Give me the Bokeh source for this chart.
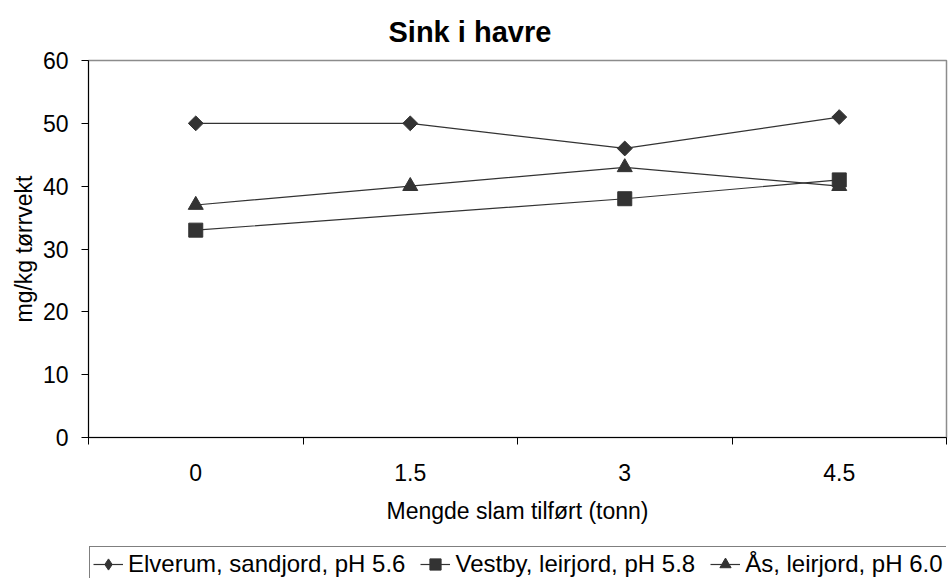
import math
from bokeh.plotting import figure
from bokeh.layouts import column
from bokeh.models import Range1d, FixedTicker, Legend, LegendItem
from bokeh.embed import file_html
from bokeh.resources import INLINE

# ---- data ----
doses = ["0", "1.5", "3", "4.5"]
elverum = [50, 50, 46, 51]
vestby = [33, None, 38, 41]
aas = [37, 40, 43, 40]
series_names = ["Elverum, sandjord, pH 5.6", "Vestby, leirjord, pH 5.8", "Ås, leirjord, pH 6.0"]
y_ticks = [0, 10, 20, 30, 40, 50, 60]

FONT = "Liberation Sans"
DARK = "#333333"
FS = "23px"

p = figure(width=951, height=540, output_backend="svg", toolbar_location=None,
           x_range=Range1d(0, len(doses)), y_range=Range1d(y_ticks[0], y_ticks[-1]),
           min_border_left=88, min_border_right=5, min_border_top=60, min_border_bottom=103,
           title="Sink i havre")

p.title.text_font = FONT
p.title.text_font_size = "29px"
p.title.text_font_style = "bold"
p.title.align = "left"
p.title.offset = 300
p.title.vertical_align = "top"
p.title.standoff = 22
p.title.text_color = "black"

p.grid.visible = False
p.outline_line_color = "#8c8c8c"
p.outline_line_width = 1.5
p.background_fill_color = "white"
p.border_fill_color = "white"

# x axis: labels at category centres, ticks at category boundaries
centers = [i + 0.5 for i in range(len(doses))]
p.xaxis.ticker = FixedTicker(ticks=centers, minor_ticks=list(range(len(doses) + 1)))
p.xaxis.major_label_overrides = {c: d for c, d in zip(centers, doses)}
p.xaxis.major_tick_out = 0
p.xaxis.major_tick_in = 0
p.xaxis.minor_tick_out = 7
p.xaxis.minor_tick_in = 0
p.xaxis.minor_tick_line_color = "black"
p.xaxis.major_label_standoff = 19
p.xaxis.axis_label = "Mengde slam tilført (tonn)"
p.xaxis.axis_label_standoff = 14

p.yaxis.ticker = FixedTicker(ticks=y_ticks, minor_ticks=[])
p.yaxis.major_tick_out = 7
p.yaxis.major_tick_in = 0
p.yaxis.major_label_standoff = 13
p.yaxis.axis_label = "mg/kg tørrvekt"
p.yaxis.axis_label_standoff = 3

for ax in (p.xaxis, p.yaxis):
    ax.axis_line_color = "black"
    ax.axis_line_width = 1
    ax.major_tick_line_color = "black"
    ax.major_label_text_font = FONT
    ax.major_label_text_font_size = FS
    ax.major_label_text_color = "black"
    ax.axis_label_text_font = FONT
    ax.axis_label_text_font_size = FS
    ax.axis_label_text_font_style = "normal"
    ax.axis_label_text_color = "black"

# legend strip underneath (own figure so the legend is not clipped)
lg = figure(width=951, height=38, output_backend="svg", toolbar_location=None,
            x_axis_location=None, y_axis_location=None,
            min_border_left=88, min_border_right=0, min_border_top=0, min_border_bottom=0)
lg.grid.visible = False
lg.outline_line_color = None
lg.border_fill_color = "white"
lg.background_fill_color = "white"

# (plot marker, size, angle, legend marker)
markers = [("square", 10.5, math.pi / 4, "diamond"),
           ("square", 14, 0, "square"),
           ("triangle", 15, 0, "triangle")]
items = []
for name, vals, (mk, sz, ang, lmk) in zip(series_names, [elverum, vestby, aas], markers):
    xs = [c for c, v in zip(centers, vals) if v is not None]
    ys = [v for v in vals if v is not None]
    p.line(xs, ys, line_color=DARK, line_width=1.2)
    p.scatter(xs, ys, marker=mk, size=sz, angle=ang, fill_color=DARK, line_color=DARK)
    ln = lg.line(xs, ys, line_color=DARK, line_width=1.2, visible=False)
    sc = lg.scatter(xs, ys, marker=lmk, size=sz, fill_color=DARK, line_color=DARK, visible=False)
    items.append(LegendItem(label=name, renderers=[ln, sc]))

legend = Legend(items=items, orientation="horizontal", location=(1, -4),
                label_text_font=FONT, label_text_font_size="24px", label_text_color="black",
                glyph_width=30, glyph_height=28, spacing=15, label_standoff=5,
                padding=3, margin=0, border_line_color="black", border_line_width=1,
                background_fill_alpha=1, inactive_fill_alpha=0)
lg.add_layout(legend)

open("out.html", "w").write(file_html(column(p, lg, spacing=0), INLINE))
